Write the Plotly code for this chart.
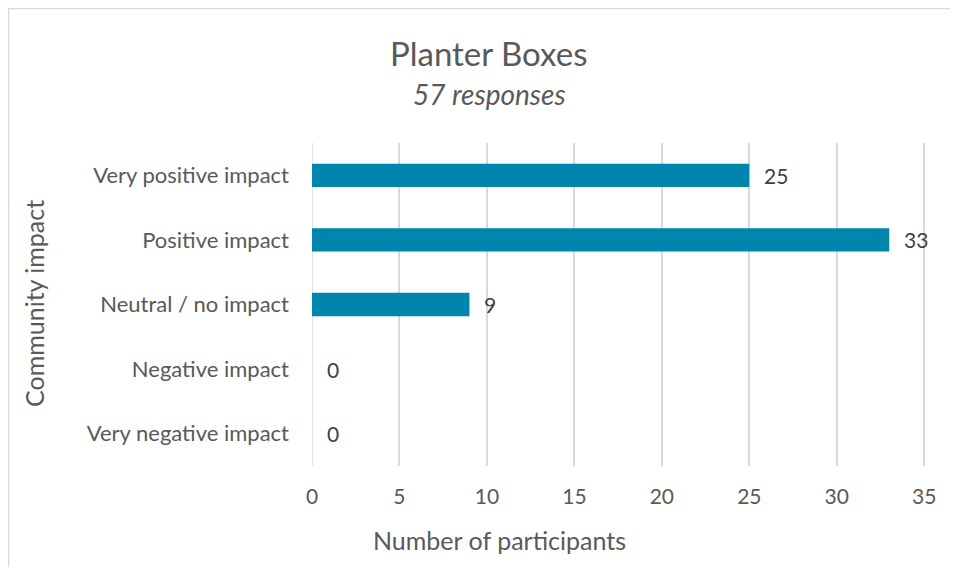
import plotly.graph_objects as go

categories = ["Very negative impact", "Negative impact", "Neutral / no impact",
              "Positive impact", "Very positive impact"]
values = [0, 0, 9, 33, 25]
x_ticks = [0, 5, 10, 15, 20, 25, 30, 35]

OFF = 8  # page body margin
W, H = 958 - 2 * OFF, 579 - 2 * OFF - 4
L, T = 312 - OFF, 143 - OFF
R = W - (926 - OFF)
B = H - (466 - OFF)
pw, ph = W - L - R, H - T - B

def px(x):
    return (x - OFF - L) / pw

def py(y):
    return 1 - (y - OFF - T) / ph

FONT = "Lato, 'Open Sans', sans-serif"
GREY = "#595959"

fig = go.Figure(go.Bar(
    y=categories, x=values, orientation="h",
    marker=dict(color="#0085AD", line=dict(width=0)),
    hoverinfo="x+y",
))

annotations = [
    dict(text=str(v), x=v, y=c, xref="x", yref="y", xanchor="left", yanchor="middle",
         xshift=13, showarrow=False, font=dict(size=21, color="#404040", family=FONT))
    for c, v in zip(categories, values)
]
annotations += [
    dict(text="Planter Boxes", x=px(489), y=py(53), xref="paper", yref="paper",
         xanchor="center", yanchor="middle",
         showarrow=False, font=dict(size=33, color=GREY, family=FONT)),
    dict(text="<i>57 responses</i>", x=px(489), y=py(94), xref="paper", yref="paper",
         xanchor="center", yanchor="middle",
         showarrow=False, font=dict(size=28, color=GREY, family=FONT)),
    dict(text="Number of participants", x=px(499), y=py(540), xref="paper", yref="paper",
         xanchor="center", yanchor="middle",
         showarrow=False, font=dict(size=25, color=GREY, family=FONT)),
    dict(text="Community impact", x=px(34), y=py(304), xref="paper", yref="paper",
         xanchor="center", yanchor="middle",
         showarrow=False, textangle=-90, font=dict(size=25, color=GREY, family=FONT)),
]

fig.update_layout(
    width=W, height=H,
    margin=dict(l=L, r=R, t=T, b=B),
    paper_bgcolor="white", plot_bgcolor="white",
    bargap=0.64,
    showlegend=False,
    font=dict(family=FONT, color=GREY),
    xaxis=dict(range=[0, 35.1], tickvals=x_ticks, showgrid=True, gridcolor="#D9D9D9",
               gridwidth=1.5, zeroline=False, showline=False,
               tickfont=dict(size=21, color=GREY), ticklabelstandoff=16,
               fixedrange=True),
    yaxis=dict(showgrid=False, showline=False, zeroline=False,
               tickfont=dict(size=22, color=GREY), ticklabelstandoff=22,
               fixedrange=True),
    shapes=[
        dict(type="line", xref="paper", yref="paper", x0=px(8), x1=px(W + 40),
             y0=py(8.5), y1=py(8.5), line=dict(color="#D9D9D9", width=1.5)),
        dict(type="line", xref="paper", yref="paper", x0=px(8.5), x1=px(8.5),
             y0=py(8), y1=py(H + 40), line=dict(color="#D9D9D9", width=1.5)),
        dict(type="line", xref="x", yref="paper", x0=0, x1=0, y0=0, y1=1,
             line=dict(color="#D9D9D9", width=1.5), layer="below"),
    ],
    annotations=annotations,
)

fig.write_html("out.html")
